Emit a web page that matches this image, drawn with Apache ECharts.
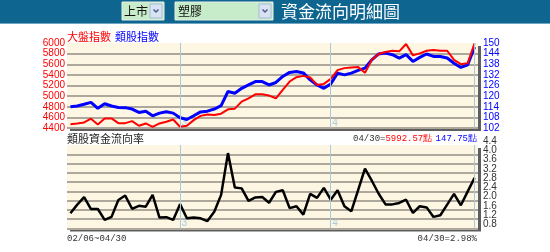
<!DOCTYPE html>
<html><head><meta charset="utf-8">
<script src="https://cdn.jsdelivr.net/npm/echarts/dist/echarts.min.js"></script>
<style>html,body{margin:0;padding:0;background:#fff;}#c{width:550px;height:252px;}</style>
</head><body><div id="c"></div>
<script>
// ---------- data ----------
const dates = ['02/06','02/09','02/10','02/11','02/12','02/13','02/16','02/17','02/18','02/19','02/20','02/23','02/24','02/25','02/26','02/27',
  '03/02','03/03','03/04','03/05','03/06','03/09','03/10','03/11','03/12','03/13','03/16','03/17','03/18','03/19','03/20','03/23','03/24','03/25','03/26','03/27','03/30','03/31',
  '04/01','04/02','04/03','04/06','04/07','04/08','04/09','04/10','04/13','04/14','04/15','04/16','04/17','04/20','04/21','04/22','04/23','04/24','04/27','04/28','04/29','04/30'];
const marketIndex = [4472,4486,4505,4575,4467,4580,4580,4491,4491,4529,4442,4486,4423,4486,4518,4561,
  4423,4442,4548,4628,4656,4643,4670,4751,4764,4896,4959,5035,5035,5010,4959,5116,5275,5356,5381,5351,5211,5230,
  5324,5489,5527,5540,5546,5438,5684,5792,5830,5854,5843,5981,5767,5805,5854,5867,5854,5854,5684,5602,5621,5992.57];
const sectorIndex = [114.0,114.4,115.4,116.5,113.1,115.7,114.4,113.6,113.5,112.7,110.8,111.5,108.9,110.4,111.2,110.4,
  107.8,106.8,108.9,111.1,111.5,112.7,114.6,122.6,121.6,124.4,126.3,128.2,128.2,126.3,127.7,131.1,133.4,133.9,133.1,129.2,126.3,124.4,
  126.9,133.0,132.0,133.0,134.5,135.8,140.5,143.8,144.3,143.4,141.5,143.4,139.6,141.9,143.8,142.4,142.4,141.5,138.6,136.2,137.7,147.75];
const flowRate = [1.46,1.83,2.15,1.64,1.64,1.17,1.30,2.03,2.22,1.65,1.78,1.74,2.25,1.27,1.29,1.17,
  1.85,1.24,1.27,1.24,1.12,1.52,2.25,4.05,2.57,2.53,1.99,2.14,2.16,1.91,2.38,2.45,1.68,1.76,1.40,2.29,2.12,2.55,
  2.04,2.45,1.76,1.54,2.45,3.38,2.86,2.30,1.84,1.84,1.90,2.04,1.47,1.76,1.71,1.30,1.37,1.83,2.29,1.80,2.40,2.98];
const monthStarts = ['03/02','04/01'];
const monthNames = ['3','4'];
const marketTicks = {min:4400, max:6000, interval:200};
const sectorTicks = {min:102, max:150, interval:6};
const rateTicks = {min:0.8, max:4.4, interval:0.4};
const marketName = '大盤指數', sectorName = '類股指數', rateName = '類股資金流向率';
const marketSel = '上市', sectorSel = '塑膠', pageTitle = '資金流向明細圖';

// ---------- chart ----------
const chart = echarts.init(document.getElementById('c'));
const last = dates.length - 1;
const G0 = {left:67, top:43, width:411, height:85};
const G1 = {left:67, top:145, width:411, height:83.5};
const BG = '#fdf6e2', GRIDC = '#aea89c', VLC = '#a9c8db';
function splitColors(n){ const a=[]; for(let i=0;i<n;i++) a.push(i===n-1?'rgba(0,0,0,0)':GRIDC); return a; }
const nTop = Math.round((marketTicks.max-marketTicks.min)/marketTicks.interval)+1;
const nBot = Math.round((rateTicks.max-rateTicks.min)/rateTicks.interval)+1;
const vlines = monthStarts.map(d=>({xAxis:d})).concat([{xAxis:dates[last]}]);
const AR = 'Arial, "Liberation Sans", sans-serif';
const MONO = '"Liberation Mono", monospace';
const CJK = '"Noto Sans CJK TC", sans-serif';

function labelSeries(xi, yi, yv){
  return {type:'scatter', xAxisIndex:xi, yAxisIndex:yi, z:1, silent:true,
    symbol:'rect', symbolSize:1, itemStyle:{color:'rgba(0,0,0,0)'},
    data: monthStarts.map(d=>[d, yv]),
    label:{show:true, position:'right', distance:1, offset:[0,-5], color:'#9dc0d4', fontSize:10, fontFamily:AR,
      formatter:p=>monthNames[p.dataIndex]},
    markLine:{silent:true, symbol:'none', label:{show:false}, lineStyle:{color:VLC, width:1, type:'solid'}, data:vlines, animation:false}
  };
}
// bottom axis labels split over two overlaid axes (alternate ticks) so none is hidden
function rateAxis(parity, withSplit){
  return {type:'value', gridIndex:1, position:'right', min:rateTicks.min, max:rateTicks.max, interval:rateTicks.interval,
    axisLine:{show:false}, axisTick:{show:false},
    axisLabel:{color:'#333', fontSize:10, fontFamily:AR, margin:5, lineHeight:8, verticalAlign:'bottom',
      showMinLabel:true, showMaxLabel:true,
      formatter:v=>(Math.round((v-rateTicks.min)/rateTicks.interval)%2===parity ? v.toFixed(1) : '')},
    splitLine:{show:withSplit, lineStyle:{color:splitColors(nBot), width:2}}};
}

const option = {
  animation:false,
  grid:[
    Object.assign({show:true, backgroundColor:BG, borderWidth:0}, G0),
    Object.assign({show:true, backgroundColor:BG, borderWidth:0}, G1)
  ],
  xAxis:[0,1].map(g=>({type:'category', gridIndex:g, data:dates, boundaryGap:true,
    axisLine:{show:false}, axisTick:{show:false}, axisLabel:{show:false}, splitLine:{show:false}})),
  yAxis:[
    {type:'value', gridIndex:0, position:'left', min:marketTicks.min, max:marketTicks.max, interval:marketTicks.interval,
      axisLine:{show:false}, axisTick:{show:false},
      axisLabel:{color:'#ff0000', fontSize:10, fontFamily:AR, margin:2, formatter:v=>String(v), showMinLabel:true, showMaxLabel:true},
      splitLine:{show:true, lineStyle:{color:splitColors(nTop), width:2}}},
    {type:'value', gridIndex:0, position:'right', min:sectorTicks.min, max:sectorTicks.max, interval:sectorTicks.interval,
      axisLine:{show:false}, axisTick:{show:false},
      axisLabel:{color:'#0000ff', fontSize:10, fontFamily:AR, margin:5, formatter:v=>String(v), showMinLabel:true, showMaxLabel:true},
      splitLine:{show:false}},
    rateAxis(0, true),
    rateAxis(1, false)
  ],
  series:[
    labelSeries(0,0,marketTicks.min),
    labelSeries(1,2,rateTicks.min),
    {type:'line', name:sectorName, xAxisIndex:0, yAxisIndex:1, data:sectorIndex, symbol:'none', z:3,
      lineStyle:{color:'#0000ff', width:3}},
    {type:'line', name:marketName, xAxisIndex:0, yAxisIndex:0, data:marketIndex, symbol:'none', z:4,
      lineStyle:{color:'#ff0000', width:2}},
    {type:'line', name:rateName, xAxisIndex:1, yAxisIndex:2, data:flowRate, symbol:'none', z:3,
      lineStyle:{color:'#000000', width:2.5}}
  ],
  graphic:{elements:[
    {type:'rect', z:-100, silent:true, shape:{x:G0.left+3, y:G0.top+3, width:G0.width, height:G0.height}, style:{fill:'#5e5e5e'}},
    {type:'rect', z:-100, silent:true, shape:{x:G1.left+3, y:G1.top+3, width:G1.width, height:G1.height}, style:{fill:'#5e5e5e'}},
    {type:'rect', silent:true, shape:{x:0, y:0, width:550, height:23}, style:{fill:'#0e6690'}},
    {type:'rect', silent:true, shape:{x:0, y:23, width:550, height:1}, style:{fill:'#6ea6c4'}},
    {type:'rect', silent:true, shape:{x:122, y:2, width:42, height:18}, style:{fill:'#c6ecc9', stroke:'#e6eee6', lineWidth:1}},
    {type:'text', silent:true, x:124, y:11, style:{text:marketSel, fill:'#111', font:'12px '+CJK, verticalAlign:'middle'}},
    {type:'rect', silent:true, shape:{x:150, y:4, width:12, height:14}, style:{fill:'#d8e2f2', stroke:'#a9bcd9', lineWidth:1}},
    {type:'polyline', silent:true, shape:{points:[[153.5,9.5],[156,12],[158.5,9.5]]}, style:{stroke:'#4a5f88', lineWidth:1.5, fill:null}},
    {type:'rect', silent:true, shape:{x:175, y:2, width:98, height:18}, style:{fill:'#c6ecc9', stroke:'#e6eee6', lineWidth:1}},
    {type:'text', silent:true, x:178, y:11, style:{text:sectorSel, fill:'#111', font:'12px '+CJK, verticalAlign:'middle'}},
    {type:'rect', silent:true, shape:{x:259, y:4, width:12, height:14}, style:{fill:'#d8e2f2', stroke:'#a9bcd9', lineWidth:1}},
    {type:'polyline', silent:true, shape:{points:[[262.5,9.5],[265,12],[267.5,9.5]]}, style:{stroke:'#4a5f88', lineWidth:1.5, fill:null}},
    {type:'text', silent:true, x:281, y:12, style:{text:pageTitle, fill:'#ffffff', font:'17px '+CJK, verticalAlign:'middle'}},
    {type:'text', silent:true, x:67, y:37, style:{text:marketName, fill:'#ff0000', font:'11px '+CJK, verticalAlign:'middle'}},
    {type:'text', silent:true, x:115, y:37, style:{text:sectorName, fill:'#0000ff', font:'11px '+CJK, verticalAlign:'middle'}},
    {type:'text', silent:true, x:67, y:139, style:{text:rateName, fill:'#222', font:'11px '+CJK, verticalAlign:'middle'}},
    {type:'text', silent:true, x:477, y:138.5, style:{
      text:'{d|'+dates[last]+'=}{r|'+marketIndex[last].toFixed(2)+'點} {b|'+sectorIndex[last].toFixed(2)+'點}',
      align:'right', verticalAlign:'middle',
      rich:{d:{fill:'#333', font:'9px '+MONO}, r:{fill:'#ff0000', font:'9px '+MONO}, b:{fill:'#0000ff', font:'9px '+MONO}}}},
    {type:'text', silent:true, x:67, y:238.5, style:{text:dates[0]+'~'+dates[last], fill:'#333', font:'9px '+MONO, verticalAlign:'middle'}},
    {type:'text', silent:true, x:477, y:238.5, style:{text:dates[last]+'='+flowRate[last].toFixed(2)+'%', fill:'#333', font:'9px '+MONO, align:'right', verticalAlign:'middle'}}
  ]}
};
chart.setOption(option);
</script></body></html>
